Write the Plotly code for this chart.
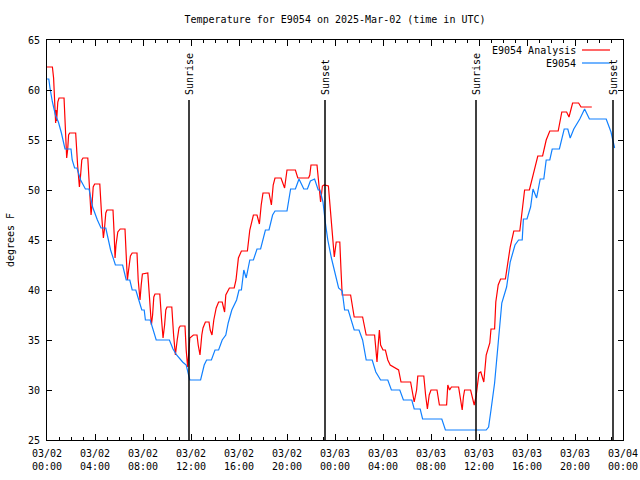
import pandas as pd
import plotly.graph_objects as go

# ---- data (hours since 2025-03-02 00:00 UTC, temperature in F) ----
analysis_hours = [0.0, 0.45, 0.55, 0.65, 0.72, 0.75, 0.8, 0.9, 1.0, 1.42, 1.5, 1.64, 1.72, 1.8, 1.89, 2.39,
                  2.55, 2.7, 2.8, 2.9, 3.0, 3.4, 3.55, 3.67, 3.75, 3.85, 3.97, 4.4, 4.55, 4.7, 4.78, 4.9,
                  5.0, 5.5, 5.6, 5.67, 5.75, 5.9, 6.1, 6.5, 6.6, 6.7, 6.8, 6.95, 7.1, 7.5, 7.6, 7.75,
                  7.85, 7.95, 8.4, 8.55, 8.7, 8.8, 8.9, 9.0, 9.4, 9.55, 9.67, 9.8, 9.9, 10.0, 10.4, 10.55,
                  10.7, 10.85, 11.0, 11.1, 11.5, 11.6, 11.72, 11.8, 11.9, 12.2, 12.5, 12.6, 12.75, 12.9,
                  13.0, 13.2, 13.5, 13.6, 13.75, 13.9, 14.1, 14.3, 14.6, 14.8, 14.9, 15.2, 15.6, 15.75,
                  15.95, 16.2, 16.7, 16.9, 17.2, 17.5, 17.7, 17.85, 18.0, 18.5, 18.7, 18.85, 19.0, 19.5,
                  19.8, 20.0, 20.7, 20.9, 21.8, 21.9, 22.0, 22.5, 22.65, 22.8, 22.95, 23.1, 23.45, 23.72,
                  23.94, 24.1, 24.4, 24.5, 24.6, 25.3, 25.6, 26.3, 26.6, 27.3, 27.4, 27.5, 27.6, 27.7,
                  27.8, 28.0, 28.2, 28.4, 28.6, 29.3, 29.5, 30.3, 30.6, 30.8, 30.9, 31.4, 31.55, 31.7,
                  31.85, 32.0, 32.5, 32.7, 33.3, 33.4, 33.55, 33.7, 34.3, 34.45, 34.6, 34.7, 34.8, 35.3,
                  35.45, 35.6, 35.75, 35.85, 36.0, 36.15, 36.3, 36.4, 36.6, 36.9, 37.0, 37.3, 37.4, 37.6,
                  37.8, 38.2, 38.6, 38.9, 39.4, 39.6, 39.8, 40.2, 40.6, 40.9, 41.3, 41.6, 41.9, 42.6,
                  42.9, 43.3, 43.5, 43.8, 44.3, 44.5, 45.4]
analysis_temps = [62.3, 62.3, 61.2, 57.5, 56.7, 58.0, 56.9, 58.8, 59.2, 59.2, 57.0, 53.2, 54.0, 55.5, 55.7, 55.7,
                  52.5, 50.3, 51.5, 53.0, 53.2, 53.2, 50.0, 47.5, 48.5, 50.3, 50.6, 50.6, 47.5, 45.2, 46.0, 47.7,
                  48.0, 48.0, 45.5, 43.2, 44.5, 45.8, 46.1, 46.1, 43.5, 41.0, 42.0, 43.4, 43.7, 43.7, 41.0, 39.0,
                  40.5, 41.6, 41.7, 38.5, 36.5, 37.5, 39.3, 39.6, 39.6, 37.0, 35.2, 36.5, 38.0, 38.3, 38.3, 35.5,
                  33.5, 35.0, 36.2, 36.4, 36.4, 34.0, 32.3, 33.5, 35.2, 35.5, 35.5, 34.5, 33.5, 35.5,
                  36.2, 36.8, 36.8, 36.0, 35.5, 37.0, 38.2, 38.8, 38.8, 37.8, 39.5, 40.2, 40.2, 41.0,
                  43.2, 43.9, 43.9, 46.0, 47.5, 47.5, 46.6, 48.5, 49.7, 49.7, 48.5, 50.5, 51.2, 51.2,
                  50.2, 52.0, 52.0, 51.2, 51.2, 51.5, 52.5, 52.5, 50.5, 48.8, 50.4, 50.5, 50.4, 46.0,
                  43.3, 44.8, 44.8, 42.0, 39.5, 39.5, 37.3, 37.3, 35.5, 35.5, 34.0, 32.8, 34.5, 36.0,
                  34.5, 34.0, 34.0, 33.0, 32.5, 32.0, 30.8, 30.8, 28.8, 30.0, 31.4, 31.4, 29.5, 28.1,
                  29.5, 30.0, 30.0, 28.5, 28.5, 30.5, 30.0, 30.3, 30.3, 29.0, 28.0, 29.3, 30.0, 30.0,
                  29.3, 28.5, 29.3, 30.5, 31.7, 31.8, 31.2, 30.8, 33.5, 34.7, 36.1, 36.1, 38.8, 40.5,
                  41.1, 41.1, 44.3, 45.9, 45.9, 48.0, 50.0, 50.0, 52.0, 53.4, 53.4, 55.0, 55.9, 55.9,
                  57.8, 57.8, 57.3, 58.7, 58.7, 58.3, 58.3]

obs_hours = [0.0, 0.15, 0.25, 0.45, 0.7, 0.95, 1.2, 1.4, 1.5, 2.0, 2.1, 2.3, 2.5, 2.8, 3.0, 3.2, 3.5, 3.8,
             4.2, 4.5, 4.9, 5.3, 5.7, 6.3, 6.6, 6.9, 7.1, 7.4, 7.6, 7.9, 8.1, 8.2, 8.6, 8.9, 9.1, 10.2,
             10.5, 10.8, 11.0, 11.3, 11.6, 11.9, 12.8, 13.1, 13.3, 13.7, 14.0, 14.3, 14.6, 14.9, 15.1,
             15.4, 15.8, 16.0, 16.2, 16.4, 16.6, 16.9, 17.2, 17.5, 17.8, 18.2, 18.5, 18.8, 19.0, 20.0,
             20.3, 20.7, 21.0, 21.4, 21.7, 21.95, 22.3, 22.6, 22.75, 23.0, 23.2, 23.4, 23.7, 24.0, 24.3,
             24.6, 24.8, 25.1, 25.6, 26.0, 26.3, 26.6, 27.1, 27.4, 27.8, 28.4, 28.7, 29.4, 29.7, 30.4,
             30.6, 31.1, 31.3, 32.9, 33.2, 36.6, 36.8, 37.0, 37.3, 37.6, 37.9, 38.3, 38.6, 39.0, 39.3,
             39.6, 39.7, 40.0, 40.3, 40.5, 40.8, 41.1, 41.4, 41.6, 41.9, 42.1, 42.7, 43.1, 43.4, 43.6,
             43.9, 44.4, 44.8, 45.2, 46.6, 47.0, 47.3]
obs_temps = [61.1, 61.1, 60.2, 58.8, 57.5, 56.8, 55.7, 54.5, 54.1, 54.1, 53.0, 52.2, 52.2, 51.0, 50.5, 50.1, 50.1, 48.3,
             47.0, 46.2, 46.2, 44.0, 42.5, 42.5, 41.0, 41.0, 40.0, 40.0, 39.2, 38.0, 38.0, 37.0, 37.0, 35.8, 35.0, 35.0,
             34.1, 33.5, 33.2, 32.8, 32.5, 31.0, 31.0, 32.5, 33.0, 33.0, 34.0, 34.0, 35.0, 35.5, 36.7,
             38.0, 39.0, 40.0, 40.0, 42.0, 41.2, 43.0, 43.0, 44.1, 44.1, 46.0, 46.0, 47.5, 47.9, 47.9,
             50.1, 50.1, 51.1, 50.1, 50.1, 50.9, 51.1, 50.0, 50.0, 48.8, 46.7, 45.0, 43.2, 41.7, 40.2,
             39.9, 38.0, 38.0, 36.0, 36.0, 35.0, 33.0, 33.0, 31.8, 31.0, 31.0, 30.0, 30.0, 29.0, 29.0,
             28.1, 28.1, 27.1, 27.1, 26.0, 26.0, 26.3, 28.0, 30.7, 34.7, 38.7, 40.3, 42.8, 44.5, 45.0,
             45.0, 47.1, 47.1, 48.3, 50.1, 49.2, 51.1, 51.1, 53.0, 53.0, 54.1, 54.1, 56.1, 56.1, 55.2,
             56.1, 57.1, 58.1, 57.1, 57.1, 55.8, 54.2]

sun_events = ["Sunrise", "Sunset", "Sunrise", "Sunset"]
sun_times = ["2025-03-02 11:50", "2025-03-02 23:10", "2025-03-03 11:45", "2025-03-03 23:10"]

series_names = ["E9054 Analysis", "E9054"]
series_colors = ["#ff0000", "#1080ff"]

base = pd.Timestamp("2025-03-02 00:00")
ax = base + pd.to_timedelta(analysis_hours, unit="h")
ox = base + pd.to_timedelta(obs_hours, unit="h")

FONT = "DejaVu Sans Mono"

fig = go.Figure()
fig.add_trace(go.Scatter(x=ax, y=analysis_temps, mode="lines", name=series_names[0],
                         line=dict(color=series_colors[0], width=1.2), showlegend=False))
fig.add_trace(go.Scatter(x=ox, y=obs_temps, mode="lines", name=series_names[1],
                         line=dict(color=series_colors[1], width=1.2), showlegend=False))

for name, t in zip(sun_events, sun_times):
    fig.add_shape(type="line", xref="x", yref="y", x0=t, x1=t, y0=25, y1=59,
                  line=dict(color="black", width=1.5))
    fig.add_annotation(x=t, y=59.3, xref="x", yref="y", text=name, textangle=-90,
                       showarrow=False, xanchor="center", yanchor="bottom",
                       font=dict(family=FONT, size=10, color="black"))

# custom gnuplot-style legend (text then sample)
leg_y = [0.975, 0.9425]
for name, col, yy in zip(series_names, series_colors, leg_y):
    fig.add_annotation(x=0.922, y=yy, xref="paper", yref="paper", text=name, showarrow=False,
                       xanchor="right", yanchor="middle", font=dict(family=FONT, size=10, color="black"))
    fig.add_shape(type="line", xref="paper", yref="paper", x0=0.9288, x1=0.9774, y0=yy, y1=yy,
                  line=dict(color=col, width=1.2))

fig.update_layout(
    width=640, height=480,
    margin=dict(l=47, r=17, t=40, b=40, autoexpand=False),
    paper_bgcolor="white", plot_bgcolor="white",
    font=dict(family=FONT, size=10, color="black"),
    title=dict(text="Temperature for E9054 on 2025-Mar-02 (time in UTC)", x=(47 + 623) / 2 / 640,
               xanchor="center", y=1 - 19 / 480, yanchor="middle",
               font=dict(family=FONT, size=10, color="black")),
)
fig.update_xaxes(
    type="date", range=["2025-03-02 00:00", "2025-03-04 00:00"],
    tick0="2025-03-02 00:00", dtick=4 * 3600000, tickformat="%m/%d<br>%H:%M",
    ticks="inside", ticklen=6, tickcolor="black", tickwidth=1,
    showline=True, linecolor="black", linewidth=1, mirror="allticks",
    showgrid=False, zeroline=False, ticklabelstandoff=4,
    minor=dict(dtick=3600000, ticks="inside", ticklen=3, tickcolor="black", showgrid=False),
    tickfont=dict(family=FONT, size=10, color="black"),
)
fig.update_yaxes(
    range=[25, 65], dtick=5, tick0=25,
    ticks="inside", ticklen=5, tickcolor="black", tickwidth=1,
    showline=True, linecolor="black", linewidth=1, mirror="allticks",
    showgrid=False, zeroline=False, ticklabelstandoff=4,
    title=dict(text="degrees F", font=dict(family=FONT, size=10, color="black"), standoff=11),
    tickfont=dict(family=FONT, size=10, color="black"),
)

fig.write_html("out.html", config={"displayModeBar": False},
               post_script="document.body.style.margin='0px';")
